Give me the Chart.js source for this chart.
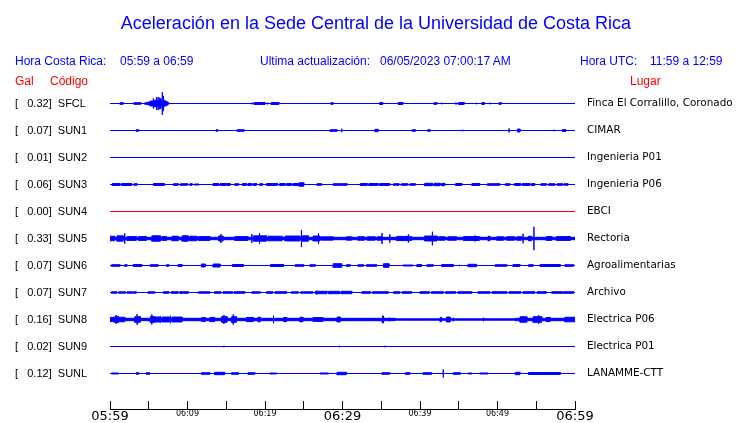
<!DOCTYPE html>
<html lang="es">
<head>
<meta charset="utf-8">
<title>Aceleración - Sede Central UCR</title>
<script src="https://cdn.jsdelivr.net/npm/chart.js@4.4.1/dist/chart.umd.min.js"></script>
<style>
  html, body { margin: 0; padding: 0; background: #fff; }
  #wrap { position: relative; width: 740px; height: 423px; overflow: hidden;
          font-family: "Liberation Sans", Arial, sans-serif; }
  #wrap canvas { position: absolute; left: 0; top: 0; }
  .txt { position: absolute; white-space: pre; line-height: normal; }
  .blue { color: #0000ff; }
  .red  { color: #ff0000; }
  #titulo { left: 0; width: 752px; text-align: center; top: 13px; font-size: 18px; }
  .hdr { top: 54px; font-size: 12px; }
  .col { top: 74px; font-size: 12px; }
</style>
</head>
<body>
<div id="wrap">
  <canvas id="sismo" width="740" height="423"></canvas>
  <div id="titulo" class="txt blue">Aceleración en la Sede Central de la Universidad de Costa Rica</div>
  <div class="txt blue hdr" style="left:15px">Hora Costa Rica:</div>
  <div class="txt blue hdr" style="left:120px">05:59 a 06:59</div>
  <div class="txt blue hdr" style="left:260px">Ultima actualización:</div>
  <div class="txt blue hdr" style="left:380px">06/05/2023 07:00:17 AM</div>
  <div class="txt blue hdr" style="left:580px">Hora UTC:</div>
  <div class="txt blue hdr" style="left:650px">11:59 a 12:59</div>
  <div class="txt red col" style="left:15px">Gal</div>
  <div class="txt red col" style="left:50px">Código</div>
  <div class="txt red col" style="left:630px">Lugar</div>
</div>
<script>
// ──────────────────────────────────────────────
// Datos
// ──────────────────────────────────────────────
const ESTACIONES = ['SFCL','SUN1','SUN2','SUN3','SUN4','SUN5','SUN6','SUN7','SUN8','SUN9','SUNL'];
const LUGARES    = ['Finca El Corralillo, Coronado','CIMAR','Ingenieria P01','Ingenieria P06','EBCI',
                    'Rectoria','Agroalimentarias','Archivo','Electrica P06','Electrica P01','LANAMME-CTT'];
const PICO_GAL   = [0.32, 0.07, 0.01, 0.06, 0.00, 0.33, 0.07, 0.07, 0.16, 0.02, 0.12];

// minutos desde 05:59
const TICKS_MIN     = [0, 5, 10, 15, 20, 25, 30, 35, 40, 45, 50, 55, 60];
const TICKS_HORA    = ['05:59','','06:09','','06:19','','06:29','','06:39','','06:49','','06:59'];
const TICKS_GRANDES = ['05:59','06:29','06:59'];

// ráfagas: [minuto inicio, minuto fin, amplitud (Gal)]; inicio == fin es un pico aislado
const SFCL = [
  [1.3,1.7,0.035],[3.1,4.0,0.035],[4.5,4.9,0.035],
  [4.9,5.2,0.054],[5.2,5.6,0.081],[5.6,7.0,0.1],[5.6,5.6,0.15],[6.0,6.0,0.19],[6.2,6.2,0.19],
  [6.4,6.4,0.17],[6.55,6.55,0.16],[6.75,6.75,0.32],[6.85,6.85,0.22],[6.95,6.95,0.15],
  [7.0,7.3,0.081],[7.3,7.5,0.054],
  [8.2,8.2,0.027],[14.5,14.5,0.027],[17.5,17.5,0.027],[18.2,18.4,0.027],[18.6,20.0,0.04],
  [20.2,20.4,0.027],[20.8,21.8,0.04],[22.2,22.2,0.027],[26.7,26.7,0.027],[28.5,28.8,0.035],
  [32.2,32.2,0.027],[34.8,35.2,0.04],[37.2,37.8,0.04],[38.9,38.9,0.027],[39.9,39.9,0.019],
  [41.8,42.2,0.035],[42.8,42.8,0.035],[44.5,44.8,0.027],[45.0,45.7,0.04],[47.3,47.3,0.035],
  [48.0,48.3,0.04],[49.0,49.0,0.035],[50.2,50.5,0.035],[50.9,50.9,0.027],[54.6,54.6,0.027]
];
const SUN1 = [
  [3.4,3.7,0.035],[5.8,5.8,0.027],[13.7,13.9,0.035],[15.8,15.8,0.027],[16.4,17.3,0.035],
  [19.9,19.9,0.027],[25.8,25.8,0.014],[28.4,29.3,0.035],[29.9,29.9,0.062],[32.4,32.4,0.027],
  [34.2,34.6,0.046],[37.7,37.7,0.027],[39.0,39.4,0.035],[41.0,41.3,0.035],[42.6,42.6,0.027],
  [43.7,43.7,0.027],[45.3,45.7,0.019],[51.5,51.5,0.07],[52.6,52.9,0.054],[54.6,54.6,0.027],
  [57.3,57.3,0.035],[58.4,58.8,0.04]
];
const SUN2 = [];
const SUN3 = [
  [0.3,1.3,0.04],[1.5,2.8,0.04],[3.1,3.5,0.035],[4.4,4.4,0.027],[5.6,7.0,0.04],[7.7,7.7,0.027],
  [8.2,8.8,0.035],[9.1,10.0,0.035],[10.3,10.6,0.035],[10.9,11.5,0.027],[11.9,11.9,0.019],
  [13.3,14.0,0.04],[14.2,15.0,0.04],[15.1,15.5,0.04],[16.1,16.6,0.035],
  [17.1,17.6,0.04],[17.8,18.3,0.04],[18.5,18.9,0.04],[19.3,19.7,0.035],[20.2,21.6,0.04],
  [21.9,22.6,0.04],[22.8,23.4,0.04],[23.6,24.3,0.04],[24.4,25.0,0.06],[25.6,25.6,0.027],
  [26.7,27.3,0.035],[28.0,28.0,0.027],[28.8,30.6,0.035],[31.4,31.4,0.027],
  [32.3,33.2,0.04],[33.4,34.6,0.04],[34.8,36.1,0.04],[36.6,37.3,0.035],[37.6,38.4,0.035],
  [38.7,39.4,0.035],[40.0,40.0,0.027],[40.6,41.6,0.046],[41.8,42.6,0.046],[42.8,43.2,0.046],
  [43.7,43.7,0.027],[44.6,45.4,0.04],[46.7,47.7,0.04],[48.7,50.3,0.035],[51.0,51.6,0.035],
  [52.2,53.0,0.04],[53.2,54.2,0.04],[54.4,54.8,0.04],
  [55.6,56.3,0.035],[56.6,57.4,0.035],[57.7,58.4,0.035],[58.6,59.1,0.035]
];
const SUN4 = [];
const SUN5 = [
  [0,60,0.046],
  [0,0.6,0.075],[0.9,1.7,0.085],[1.9,1.9,0.154],[2.2,3.4,0.065],[3.7,4.7,0.065],[5.4,6.5,0.085],
  [5.9,5.9,0.108],[6.7,7.3,0.065],[8.0,8.8,0.075],[9.3,10.1,0.085],[9.7,9.7,0.108],
  [10.3,11.2,0.075],[11.4,12.9,0.065],[14.0,14.6,0.08],[14.3,14.3,0.135],[16.1,17.8,0.065],
  [18.3,18.3,0.135],[18.5,20.2,0.085],[19.3,19.3,0.154],[20.4,22.2,0.075],[22.6,24.5,0.08],
  [24.7,24.7,0.243],[24.8,25.6,0.085],[26.2,27.1,0.08],[26.9,26.9,0.162],[27.3,28.8,0.058],
  [30.5,31.2,0.058],[32.0,32.8,0.06],[33.2,34.2,0.06],[34.5,35.1,0.06],[35.1,35.1,0.162],
  [36.1,36.1,0.127],[37.0,38.9,0.07],[38.5,38.5,0.127],[40.6,42.2,0.08],[41.6,41.6,0.197],
  [42.4,43.2,0.06],[43.6,44.7,0.06],[45.6,47.7,0.065],[47.1,47.1,0.095],[48.8,49.0,0.075],
  [49.9,50.8,0.06],[51.2,52.2,0.06],[52.5,53.1,0.06],[53.3,53.3,0.143],[54.0,54.4,0.075],
  [54.7,54.7,0.33],[56.3,57.0,0.065],[57.6,59.4,0.065]
];
const SUN6 = [
  [0.2,1.3,0.035],[1.9,2.2,0.035],[3.0,4.1,0.04],[5.2,6.2,0.035],[7.3,7.6,0.035],[8.8,9.3,0.04],
  [11.8,12.3,0.054],[13.3,14.2,0.054],[15.8,17.2,0.04],[18.1,18.1,0.027],[20.7,22.4,0.04],
  [23.9,25.0,0.035],[25.8,26.5,0.035],[28.8,29.9,0.062],[29.5,29.5,0.07],[30.5,31.0,0.035],
  [32.0,32.7,0.035],[33.1,34.4,0.035],[35.3,36.0,0.062],[37.8,39.1,0.027],[39.6,40.2,0.04],
  [40.9,41.7,0.035],[42.8,44.3,0.04],[45.1,45.1,0.035],[46.2,47.3,0.046],[49.7,51.2,0.035],
  [52.0,52.9,0.04],[54.0,54.6,0.035],[55.5,58.1,0.04],[58.7,59.8,0.035]
];
const SUN7 = [
  [0.2,0.9,0.032],[1.1,2.0,0.032],[2.2,2.9,0.032],[3.0,3.4,0.032],[4.9,5.8,0.032],
  [6.9,7.6,0.035],[7.9,8.8,0.035],[9.0,10.1,0.035],[11.4,12.9,0.032],
  [13.5,14.3,0.035],[14.6,15.8,0.035],[16.0,17.4,0.035],[18.3,19.4,0.032],
  [20.2,21.0,0.035],[21.3,22.8,0.035],[23.4,24.3,0.032],[24.6,26.2,0.032],
  [26.5,28.0,0.046],[26.7,26.7,0.065],[28.2,29.6,0.046],[29.8,31.2,0.046],
  [32.5,33.6,0.035],[33.9,35.9,0.035],[36.6,37.4,0.035],[37.7,38.9,0.035],
  [40.0,41.2,0.035],[41.5,43.0,0.035],[43.3,44.6,0.035],[44.9,46.7,0.035],
  [47.5,49.0,0.035],[49.3,51.2,0.035],[50.5,50.5,0.046],[51.5,53.0,0.035],[53.3,54.8,0.035],
  [55.1,56.3,0.035],[57.0,58.2,0.035],[58.3,58.3,0.054],[58.4,59.8,0.035]
];
const SUN8 = [
  [0,36.8,0.046],[36.8,52.3,0.032],[52.3,60,0.046],
  [0,0.6,0.07],[0.6,1.1,0.09],[0.8,0.8,0.135],[1.1,1.9,0.075],[3.2,3.9,0.09],[3.5,3.5,0.16],
  [5.2,5.8,0.09],[5.4,5.4,0.15],[5.8,6.5,0.08],[6.5,6.5,0.108],[6.7,7.7,0.08],[7.8,7.8,0.116],
  [8.0,9.3,0.08],[11.8,12.3,0.065],[12.9,13.5,0.07],[14.4,15.1,0.09],[14.7,14.7,0.135],
  [15.7,16.3,0.09],[15.9,15.9,0.154],[17.6,18.5,0.07],[19.1,19.4,0.075],[21.1,21.1,0.116],
  [22.4,22.8,0.07],[24.5,24.9,0.075],[26.2,27.5,0.065],[29.3,29.7,0.08],[35.1,35.3,0.1],
  [35.2,35.2,0.116],[36.1,36.1,0.062],[42.6,42.8,0.07],[43.4,43.9,0.08],[44.3,44.3,0.062],
  [48.2,48.2,0.062],[52.9,53.8,0.085],[53.3,53.3,0.108],[54.6,55.7,0.09],[55.3,55.3,0.135],
  [56.3,56.8,0.07],[57.8,57.8,0.054],[58.7,60,0.075]
];
const SUN9 = [
  [3.4,3.4,0.019],[6.5,6.5,0.019],[14.7,14.7,0.035],[29.6,29.6,0.035],[35.5,35.5,0.035],
  [43.7,43.7,0.019],[54.8,54.8,0.027]
];
const SUNL = [
  [0.2,1.1,0.027],[3.4,3.7,0.035],[4.7,5.1,0.035],[7.5,7.5,0.027],[9.9,9.9,0.027],
  [11.8,12.9,0.035],[13.5,14.8,0.046],[15.7,16.6,0.035],[17.8,18.7,0.035],[19.7,19.7,0.027],
  [20.6,21.5,0.027],[23.0,23.0,0.027],[27.1,28.2,0.027],[29.3,30.5,0.046],[32.3,32.3,0.027],
  [35.1,36.1,0.035],[38.1,38.7,0.035],[40.4,41.5,0.035],[41.9,41.9,0.027],[43.0,43.0,0.12],
  [44.3,45.2,0.035],[46.2,46.7,0.027],[47.7,48.8,0.027],[50.1,50.1,0.027],[52.3,52.9,0.046],
  [54.0,58.1,0.04],[54.2,54.2,0.054]
];
const TRAZAS = [SFCL, SUN1, SUN2, SUN3, SUN4, SUN5, SUN6, SUN7, SUN8, SUN9, SUNL];

// ──────────────────────────────────────────────
// Estilo / geometría
// ──────────────────────────────────────────────
const AZUL = '#0000ff';
const ROJO = '#ff0000';
const COLORES = ESTACIONES.map(c => c === 'SUN4' ? ROJO : AZUL);

const SEP_GAL    = 0.73;             // separación entre trazas (Gal)
const PX_POR_GAL = 27 / SEP_GAL;
const Y_MIN = -27.5 / PX_POR_GAL;
const Y_MAX = Y_MIN + 333 / PX_POR_GAL;
const FILAS = ESTACIONES.map((_, i) => i * SEP_GAL);
const MEDIO_TRAZO = 0.5 / PX_POR_GAL; // el borde de 1px ya suma medio pixel

// ──────────────────────────────────────────────
// Envolvente de una traza a partir de sus ráfagas
// ──────────────────────────────────────────────
function envolvente(rafagas) {
    const ts = [...new Set([0, 60, ...rafagas.flatMap(r => [r[0], r[1]])])].sort((a, b) => a - b);
    const ampEn = t => rafagas.filter(r => r[0] <= t && t <= r[1]).reduce((m, r) => Math.max(m, r[2]), 0);
    const ampTramo = (a, b) => rafagas.filter(r => r[0] < r[1] && r[0] <= a && r[1] >= b)
                                      .reduce((m, r) => Math.max(m, r[2]), 0);
    const pts = [];
    ts.forEach((t, i) => {
        const izq = i > 0 ? ampTramo(ts[i - 1], t) : 0;
        const der = i < ts.length - 1 ? ampTramo(t, ts[i + 1]) : 0;
        pts.push([t, izq], [t, Math.max(ampEn(t), izq, der)], [t, der]);
    });
    return pts.map(([t, a]) => [t, Math.max(0, a - MEDIO_TRAZO)]);
}

const datasets = [];
TRAZAS.forEach((rafagas, i) => {
    const base = FILAS[i];
    const env  = envolvente(rafagas);
    datasets.push({
        data: env.map(p => ({ x: p[0], y: base - p[1] })),
        borderColor: COLORES[i], borderWidth: 1, pointRadius: 0, fill: false
    });
    datasets.push({
        data: env.map(p => ({ x: p[0], y: base + p[1] })),
        borderColor: COLORES[i], backgroundColor: COLORES[i],
        borderWidth: 1, pointRadius: 0, fill: '-1'
    });
});

// los ejes verticales no deben reservar margen extra arriba/abajo
function anchoFijo(w) {
    return s => { s.width = w; s.paddingTop = 0; s.paddingBottom = 0; };
}

// ──────────────────────────────────────────────
// Gráfico
// ──────────────────────────────────────────────
new Chart(document.getElementById('sismo'), {
    type: 'line',
    data: { datasets },
    options: {
        responsive: false,
        animation: false,
        devicePixelRatio: 1,
        layout: { padding: { left: 15, right: 0, top: 76, bottom: 0 } },
        elements: { line: { tension: 0 } },
        plugins: { legend: { display: false }, tooltip: { enabled: false }, title: { display: false } },
        scales: {
            x: {
                type: 'linear', position: 'bottom', min: 0, max: 60,
                afterBuildTicks: s => { s.ticks = TICKS_MIN.map(v => ({ value: v })); },
                afterFit: s => { s.height = 14; },
                grid: { display: true, drawOnChartArea: false, drawTicks: true, tickLength: -8, color: '#000' },
                border: { display: true, color: '#000', width: 1 },
                ticks: {
                    autoSkip: false, maxRotation: 0, padding: 8, color: '#000',
                    callback: (v, i) => TICKS_HORA[i],
                    font: ctx => TICKS_GRANDES.includes(TICKS_HORA[ctx.index])
                        ? { family: 'DejaVu Sans', size: 13 }
                        : { family: 'DejaVu Sans', size: 8 }
                }
            },
            y: {
                position: 'left', reverse: true, min: Y_MIN, max: Y_MAX,
                afterBuildTicks: s => { s.ticks = FILAS.map(v => ({ value: v })); },
                afterFit: anchoFijo(95),
                grid: { display: false }, border: { display: false },
                ticks: {
                    crossAlign: 'far', color: '#000', autoSkip: false,
                    font: { family: 'Liberation Sans', size: 11 },
                    callback: (v, i) => `[   ${PICO_GAL[i].toFixed(2)}]  ${ESTACIONES[i]}`
                }
            },
            y2: {
                position: 'right', reverse: true, min: Y_MIN, max: Y_MAX,
                afterBuildTicks: s => { s.ticks = FILAS.map(v => ({ value: v })); },
                afterFit: anchoFijo(165),
                grid: { display: false, drawTicks: false }, border: { display: false },
                ticks: {
                    padding: 12, color: '#000', autoSkip: false,
                    font: { family: 'DejaVu Sans', size: 10.4 },
                    callback: (v, i) => LUGARES[i]
                }
            }
        }
    }
});
</script>
</body>
</html>
